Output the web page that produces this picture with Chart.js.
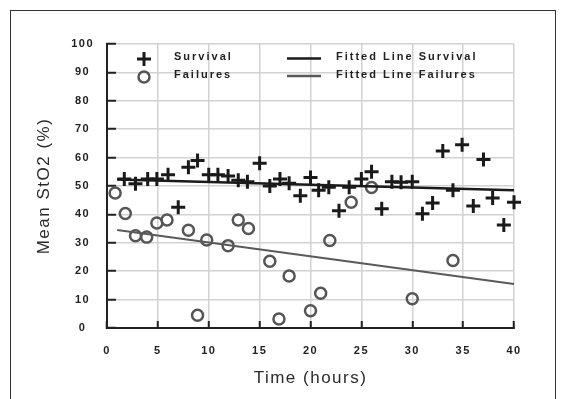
<!DOCTYPE html>
<html>
<head>
<meta charset="utf-8">
<script src="https://cdn.jsdelivr.net/npm/chart.js@4/dist/chart.umd.min.js"></script>
<style>
  html, body { margin: 0; padding: 0; background: #fff; }
  #wrap { position: relative; width: 561px; height: 399px; overflow: hidden; }
  #frame { position: absolute; left: 10px; top: 10px; width: 546px; height: 400px; border: 1.5px solid #333; box-sizing: border-box; }
  #c { position: absolute; left: 0; top: 0; }
</style>
</head>
<body>
<div id="wrap">
  <div id="frame"></div>
  <canvas id="c" width="561" height="399"></canvas>
</div>
<script>
// values
const survivalHours = [1.7, 2.8, 4, 4.9, 6, 7, 8, 8.9, 10, 10.9, 11.9, 12.9, 13.8, 15, 16, 17, 17.9, 19, 20, 20.8,
    21.8, 22.8, 23.8, 25, 26, 27, 28, 28.9, 30, 31, 32, 33, 34, 34.9, 36, 37, 37.9, 39, 40];
const survivalSto2 = [52.5, 50.8, 52.5, 52.5, 54, 42.5, 56.6, 59, 54, 54, 53.5, 52, 51.5, 58, 50, 52.5, 51, 46.6, 53, 48.5,
    49.6, 41.3, 49.6, 52.5, 55, 42, 51.5, 51.3, 51.5, 40.2, 44, 62.3, 48.5, 64.5, 43, 59.3, 45.8, 36.3, 44.3];

const failureHours = [0.8, 1.8, 2.8, 3.9, 4.9, 5.9, 8, 8.9, 9.8, 11.9, 12.9, 13.9, 16, 16.9, 17.9, 20, 21, 21.9, 24, 26, 30, 34];
const failureSto2 = [47.5, 40.3, 32.5, 32, 37, 38, 34.4, 4.5, 31, 29, 38, 35, 23.5, 3.2, 18.3, 6.1, 12.2, 30.8, 44.3, 49.5, 10.3, 23.8];

const fitHours = [1, 40];
const fitSurvival = [52.3, 48.5];
const fitFailures = [34.5, 15.5];

const xTicks = [0, 5, 10, 15, 20, 25, 30, 35, 40];
const yTicks = [0, 10, 20, 30, 40, 50, 60, 70, 80, 90, 100];

const legendLabels = ['Survival', 'Failures', 'Fitted Line Survival', 'Fitted Line Failures'];

function pairs(xs, ys) {
    return xs.map((x, i) => ({ x: x, y: ys[i] }));
}

Chart.defaults.font.family = 'Arial, "Liberation Sans", sans-serif';

const spacing = {
    id: 'spacing',
    beforeUpdate(chart) { chart.ctx.letterSpacing = '1.5px'; },
    beforeLayout(chart) { chart.ctx.letterSpacing = '1.5px'; },
    beforeDraw(chart) { chart.ctx.letterSpacing = '1.5px'; }
};

// two-column legend drawn inside the plot
const innerLegend = {
    id: 'innerLegend',
    afterDraw(chart) {
        const ctx = chart.ctx;
        const a = chart.chartArea;
        const row1 = a.top + 13, row2 = a.top + 31;
        ctx.save();
        ctx.letterSpacing = '2px';
        ctx.font = 'bold 11px Arial, "Liberation Sans", sans-serif';
        ctx.fillStyle = '#222';
        ctx.textBaseline = 'middle';
        ctx.textAlign = 'left';
        ctx.fillText(legendLabels[0], a.left + 67, row1);
        ctx.fillText(legendLabels[1], a.left + 67, row2);
        ctx.fillText(legendLabels[2], a.left + 229, row1);
        ctx.fillText(legendLabels[3], a.left + 229, row2);

        // markers
        const mx = a.left + 37;
        ctx.strokeStyle = '#1a1a1a';
        ctx.lineWidth = 3;
        ctx.beginPath();
        ctx.moveTo(mx - 7, row1 + 2); ctx.lineTo(mx + 7, row1 + 2);
        ctx.moveTo(mx, row1 - 5); ctx.lineTo(mx, row1 + 9);
        ctx.stroke();
        ctx.strokeStyle = '#555';
        ctx.lineWidth = 2.5;
        ctx.beginPath();
        ctx.arc(mx, row2 + 2, 5.5, 0, Math.PI * 2);
        ctx.stroke();

        // line samples
        ctx.lineWidth = 2.5;
        ctx.strokeStyle = '#1a1a1a';
        ctx.beginPath();
        ctx.moveTo(a.left + 180, row1 + 1.5); ctx.lineTo(a.left + 214, row1 + 1.5);
        ctx.stroke();
        ctx.strokeStyle = '#5a5a5a';
        ctx.beginPath();
        ctx.moveTo(a.left + 180, row2 + 1); ctx.lineTo(a.left + 214, row2 + 1);
        ctx.stroke();
        ctx.restore();
    }
};

new Chart(document.getElementById('c'), {
    type: 'scatter',
    data: {
        datasets: [
            {
                label: 'Fitted Line Survival',
                data: pairs(fitHours, fitSurvival),
                showLine: true,
                borderColor: '#1a1a1a',
                borderWidth: 2.5,
                pointRadius: 0,
                clip: false
            },
            {
                label: 'Fitted Line Failures',
                data: pairs(fitHours, fitFailures),
                showLine: true,
                borderColor: '#5a5a5a',
                borderWidth: 2.2,
                pointRadius: 0,
                clip: false
            },
            {
                label: 'Survival',
                data: pairs(survivalHours, survivalSto2),
                pointStyle: 'cross',
                pointRadius: 7,
                pointBorderWidth: 3,
                borderColor: '#1a1a1a',
                backgroundColor: '#1a1a1a',
                clip: false
            },
            {
                label: 'Failures',
                data: pairs(failureHours, failureSto2),
                pointStyle: 'circle',
                pointRadius: 5.5,
                pointBorderWidth: 2.5,
                borderColor: '#555',
                backgroundColor: 'rgba(0,0,0,0)',
                clip: false
            }
        ]
    },
    options: {
        responsive: false,
        animation: false,
        devicePixelRatio: 1,
        layout: { padding: { left: 0, top: 44, right: 47, bottom: 0 } },
        plugins: {
            legend: { display: false },
            tooltip: { enabled: false }
        },
        scales: {
            x: {
                type: 'linear',
                min: 0,
                max: 40,
                afterFit(scale) { scale.height = 71; },
                afterBuildTicks(scale) { scale.ticks = xTicks.map(v => ({ value: v })); },
                grid: { color: '#d2d2d2', lineWidth: 1.5, tickLength: -7, tickColor: '#222', tickWidth: 2 },
                border: { color: '#222', width: 2 },
                ticks: {
                    padding: 23,
                    maxRotation: 0,
                    color: '#222',
                    font: { size: 11, weight: 'bold' }
                },
                title: {
                    display: true,
                    text: 'Time (hours)',
                    color: '#2a2a2a',
                    font: { size: 17 },
                    padding: { top: 0, bottom: 10 }
                }
            },
            y: {
                type: 'linear',
                min: 0,
                max: 100,
                afterFit(scale) { scale.width = 107; },
                afterBuildTicks(scale) { scale.ticks = yTicks.map(v => ({ value: v })); },
                grid: { color: '#d2d2d2', lineWidth: 1.5, tickLength: -9, tickColor: '#222', tickWidth: 2 },
                border: { color: '#222', width: 2 },
                ticks: {
                    padding: 22,
                    crossAlign: 'center',
                    color: '#222',
                    font: { size: 11, weight: 'bold' }
                },
                title: {
                    display: true,
                    text: 'Mean StO2 (%)',
                    color: '#2a2a2a',
                    font: { size: 17 },
                    padding: { top: 34, bottom: 0 }
                }
            }
        }
    },
    plugins: [spacing, innerLegend]
});
</script>
</body>
</html>
